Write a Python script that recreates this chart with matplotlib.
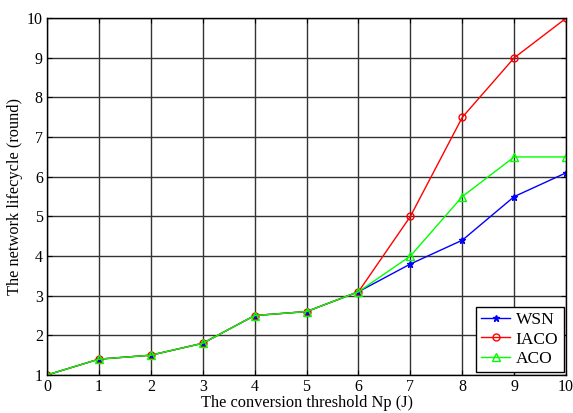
import matplotlib
matplotlib.use("Agg")
import matplotlib.pyplot as plt

plt.rcParams['font.family'] = ['Liberation Serif', 'DejaVu Serif']

x = [0, 1, 2, 3, 4, 5, 6, 7, 8, 9, 10]
wsn = [1, 1.4, 1.5, 1.8, 2.5, 2.6, 3.1, 3.8, 4.4, 5.5, 6.1]
iaco = [1, 1.4, 1.5, 1.8, 2.5, 2.6, 3.1, 5.0, 7.5, 9.0, 10.0]
aco = [1, 1.4, 1.5, 1.8, 2.5, 2.6, 3.1, 4.0, 5.5, 6.5, 6.5]

fig = plt.figure(figsize=(5.73, 4.13), dpi=100)
ax = fig.add_axes([0.082, 0.092, 0.906, 0.864])

ax.plot(x, wsn, color='#0000ff', marker='*', markersize=5, linewidth=1, label='WSN')
ax.plot(x, iaco, color='#ff0000', marker='o', markersize=5, markerfacecolor='none', linewidth=1, label='IACO')
ax.plot(x, aco, color='#00ff00', marker='^', markersize=6, markerfacecolor='none', linewidth=1, label='ACO')

ax.set_xlim(0, 10)
ax.set_ylim(1, 10)
ax.set_xticks(range(0, 11))
ax.set_yticks(range(1, 11))
ax.grid(True, color='#333333', linewidth=1, linestyle='-')
ax.set_axisbelow(True)
ax.tick_params(direction='in', labelsize=11.5, top=True, right=True, pad=3)
for s in ax.spines.values():
    s.set_linewidth(1)
    s.set_color('black')

ax.set_xlabel('The conversion threshold Np (J)', fontsize=11.8, labelpad=0)
ax.set_ylabel('The network lifecycle (round)', fontsize=11.8, labelpad=3)

leg = ax.legend(loc='lower right', fontsize=12.5, fancybox=False, framealpha=1,
                edgecolor='black', borderpad=0.3, labelspacing=0.2, handlelength=1.7,
                handletextpad=0.3, borderaxespad=0.15)
leg.get_frame().set_linewidth(1)

fig.savefig('out.png', dpi=100)
